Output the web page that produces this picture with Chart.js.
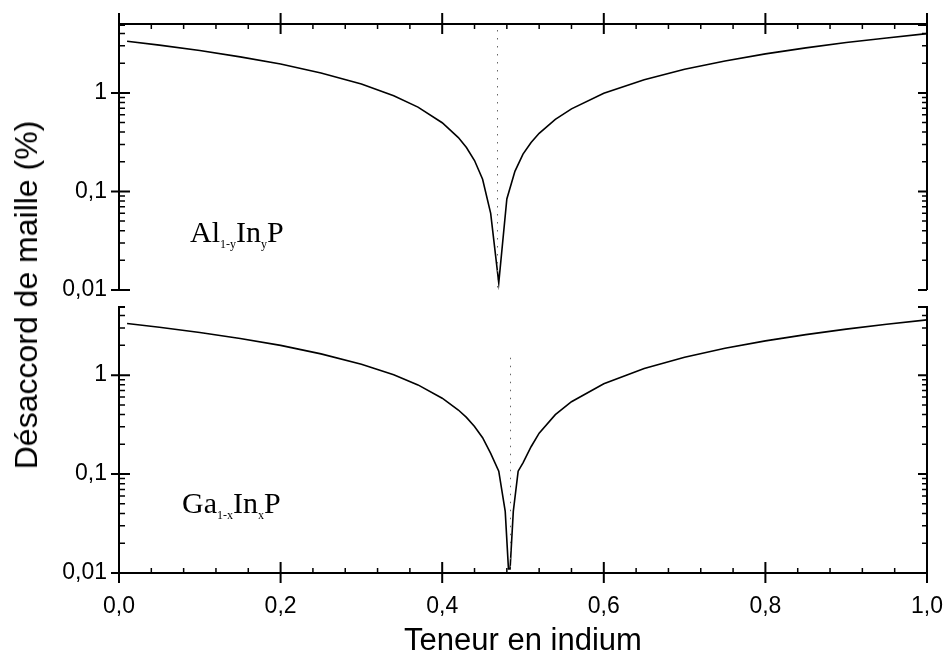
<!DOCTYPE html>
<html>
<head>
<meta charset="utf-8">
<script src="https://cdn.jsdelivr.net/npm/chart.js@4/dist/chart.umd.min.js"></script>
<style>
  body { margin: 0; background: #fff; }
  #wrap { position: relative; width: 950px; height: 658px; overflow: hidden; background: #fff; }
  canvas { position: absolute; left: 0; }
  .formula { position: absolute; font: 30px "Liberation Serif", "Times New Roman", serif; line-height: 30px; color: #000; white-space: nowrap; }
  .formula span { font-size: 12px; vertical-align: -6px; }
  #ytitle { position: absolute; left: 26px; top: 295px; font: 32px "Liberation Sans", Arial, sans-serif; line-height: 32px;
    white-space: nowrap; transform: translate(-50%, -50%) rotate(-90deg); color: #000; }
</style>
</head>
<body>
<div id="wrap">
  <canvas id="bottomChart" width="950" height="368" style="top:290px"></canvas>
  <canvas id="topChart" width="950" height="310" style="top:0"></canvas>
  <div class="formula" style="left:190px; top:217px">Al<span>1-y</span>In<span>y</span>P</div>
  <div class="formula" style="left:182px; top:488px">Ga<span>1-x</span>In<span>x</span>P</div>
  <div id="ytitle">Désaccord de maille (%)</div>
</div>
<script>
// Al(1-y)In(y)P mismatch vs indium content
const alX = [0.01, 0.05, 0.10, 0.15, 0.20, 0.25, 0.30, 0.34, 0.37, 0.40, 0.42, 0.43, 0.44, 0.45, 0.46, 0.47,
             0.48, 0.49, 0.50, 0.51, 0.52, 0.54, 0.56, 0.60, 0.65, 0.70, 0.75, 0.80, 0.85, 0.90, 0.95, 1.00];
const alY = [3.34, 3.05, 2.69, 2.32, 1.96, 1.59, 1.23, 0.936, 0.717, 0.498, 0.352, 0.279, 0.206, 0.133, 0.060, 0.0118,
             0.084, 0.16, 0.239, 0.314, 0.389, 0.539, 0.689, 0.99, 1.36, 1.74, 2.11, 2.49, 2.86, 3.24, 3.61, 3.99];

// Ga(1-x)In(x)P mismatch vs indium content
const gaX = [0.01, 0.05, 0.10, 0.15, 0.20, 0.25, 0.30, 0.34, 0.37, 0.40, 0.42, 0.43, 0.44, 0.45, 0.46, 0.47,
             0.478, 0.482, 0.484, 0.488, 0.494, 0.50, 0.51, 0.52, 0.54, 0.56, 0.60, 0.65, 0.70, 0.75, 0.80, 0.85, 0.90, 0.95, 1.00];
const gaY = [3.33, 3.05, 2.70, 2.35, 2.00, 1.64, 1.29, 1.01, 0.797, 0.585, 0.444, 0.374, 0.303, 0.233, 0.162, 0.107,
             0.042, 0.011, 0.011, 0.042, 0.107, 0.13, 0.189, 0.259, 0.399, 0.539, 0.819, 1.17, 1.52, 1.87, 2.22, 2.57, 2.92, 3.27, 3.62];

// lattice-matched composition markers (dotted lines)
const alMatch = 0.468;
const gaMatch = 0.484;

const yMajor = [0.01, 0.1, 1];
const yTickLabels = ["0,01", "0,1", "1"];
const yMinor = [0.02, 0.03, 0.04, 0.05, 0.06, 0.07, 0.08, 0.09, 0.2, 0.3, 0.4, 0.5, 0.6, 0.7, 0.8, 0.9, 2, 3, 4];
const xMajor = [0, 0.2, 0.4, 0.6, 0.8, 1.0];
const xTickLabels = ["0,0", "0,2", "0,4", "0,6", "0,8", "1,0"];
const xMinor = [0.04, 0.08, 0.12, 0.16, 0.24, 0.28, 0.32, 0.36, 0.44, 0.48, 0.52, 0.56,
                0.64, 0.68, 0.72, 0.76, 0.84, 0.88, 0.92, 0.96];

const FONT = "'Liberation Sans', Arial, sans-serif";

function pts(xs, ys) {
    return xs.map((x, i) => ({ x: x, y: ys[i] }));
}

// labels may overhang the plot area, don't let chart.js shrink it
function noPad(s) {
    s.paddingTop = 0; s.paddingBottom = 0; s.paddingLeft = 0; s.paddingRight = 0;
}

// axes, frame and ticks drawn by hand (ticks cross the axis / point inward)
function framePlugin(side, matchX, dotFrom) {
    return {
        id: "frame_" + side,
        afterDraw(chart) {
            const c = chart.ctx;
            const a = chart.chartArea;
            const xs = chart.scales.x, ys = chart.scales.y;
            c.save();
            c.strokeStyle = "#000";
            c.lineCap = "butt";

            // dotted vertical line
            c.save();
            c.strokeStyle = "#666";
            c.lineWidth = 1;
            c.setLineDash([1.5, 6.5]);
            const mx = Math.round(xs.getPixelForValue(matchX)) + 0.5;
            c.beginPath();
            c.moveTo(mx, dotFrom == null ? a.top + 6 : ys.getPixelForValue(dotFrom));
            c.lineTo(mx, a.bottom);
            c.stroke();
            c.restore();

            c.lineWidth = 2;
            c.beginPath();
            // left and right axes
            c.moveTo(a.left, a.top); c.lineTo(a.left, a.bottom);
            c.moveTo(a.right, a.top); c.lineTo(a.right, a.bottom);
            const hy = side === "top" ? a.top : a.bottom;
            c.moveTo(a.left, hy); c.lineTo(a.right, hy);
            c.stroke();

            // y ticks
            c.beginPath();
            yMajor.forEach(v => {
                const p = ys.getPixelForValue(v);
                c.moveTo(a.left - 8, p); c.lineTo(a.left + 11, p);
                c.moveTo(a.right - 9, p); c.lineTo(a.right, p);
            });
            // tick at the top end of the y range
            c.moveTo(a.left, a.top + 1); c.lineTo(a.left + 6, a.top + 1);
            c.moveTo(a.right - 9, a.top + 1); c.lineTo(a.right, a.top + 1);
            c.stroke();

            c.lineWidth = 1.5;
            c.beginPath();
            yMinor.forEach(v => {
                const p = ys.getPixelForValue(v);
                c.moveTo(a.left, p); c.lineTo(a.left + 6, p);
                c.moveTo(a.right - 5, p); c.lineTo(a.right, p);
            });
            // x ticks
            const dir = side === "top" ? 1 : -1;
            xMinor.forEach(v => {
                const p = xs.getPixelForValue(v);
                c.moveTo(p, hy); c.lineTo(p, hy + dir * 5);
            });
            c.stroke();

            c.lineWidth = 2;
            c.beginPath();
            xMajor.forEach(v => {
                const p = xs.getPixelForValue(v);
                c.moveTo(p, hy - 11); c.lineTo(p, hy + 10);
            });
            c.stroke();
            c.restore();
        }
    };
}

function yScale() {
    return {
        type: "logarithmic",
        min: 0.01,
        max: 5,
        afterBuildTicks: s => { s.ticks = yMajor.map(v => ({ value: v })); },
        afterFit: s => { s.width = 119; noPad(s); },
        grid: { display: false, drawTicks: false },
        border: { display: false },
        ticks: {
            color: "#000",
            padding: 12,
            font: { family: FONT, size: 23 },
            callback: v => {
                const i = yMajor.indexOf(v);
                return i >= 0 ? yTickLabels[i] : "";
            }
        }
    };
}

const lineStyle = { borderColor: "#000", borderWidth: 1.6, pointRadius: 0, tension: 0, fill: false };

new Chart(document.getElementById("topChart"), {
    type: "line",
    data: { datasets: [Object.assign({ data: pts(alX, alY) }, lineStyle)] },
    options: {
        responsive: false,
        animation: false,
        layout: { padding: { left: 0, right: 23, top: 24, bottom: 20 } },
        plugins: { legend: { display: false }, tooltip: { enabled: false } },
        scales: {
            x: { type: "linear", min: 0, max: 1, display: false },
            y: yScale()
        }
    },
    plugins: [framePlugin("top", alMatch, null)]
});

new Chart(document.getElementById("bottomChart"), {
    type: "line",
    data: { datasets: [Object.assign({ data: pts(gaX, gaY) }, lineStyle)] },
    options: {
        responsive: false,
        animation: false,
        layout: { padding: { left: 0, right: 23, top: 16, bottom: 0 } },
        plugins: { legend: { display: false }, tooltip: { enabled: false } },
        scales: {
            x: {
                type: "linear",
                min: 0,
                max: 1,
                position: "bottom",
                afterBuildTicks: s => { s.ticks = xMajor.map(v => ({ value: v })); },
                afterFit: s => { s.height = 85; noPad(s); },
                grid: { display: false, drawTicks: false },
                border: { display: false },
                ticks: {
                    color: "#000",
                    padding: 20,
                    maxRotation: 0,
                    font: { family: FONT, size: 23 },
                    callback: v => {
                        const i = xMajor.indexOf(v);
                        return i >= 0 ? xTickLabels[i] : "";
                    }
                },
                title: {
                    display: true,
                    text: "Teneur en indium",
                    color: "#000",
                    padding: { top: 0, bottom: 1 },
                    font: { family: FONT, size: 31, lineHeight: 1 }
                }
            },
            y: yScale()
        }
    },
    plugins: [framePlugin("bottom", gaMatch, 1.5)]
});
</script>
</body>
</html>
